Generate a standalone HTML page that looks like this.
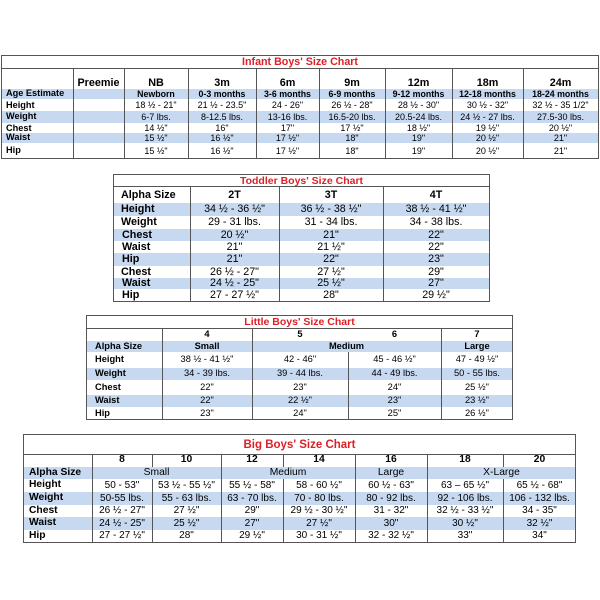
<!DOCTYPE html>
<html><head><meta charset="utf-8">
<style>
html,body{margin:0;padding:0;background:#fff;}
body{width:600px;height:600px;position:relative;overflow:hidden;font-family:"Liberation Sans",Arial,sans-serif;color:#000;}
.bx{position:absolute;border:1px solid #555;box-sizing:border-box;}
.bd{position:absolute;background:#c6d9f1;}
.v{position:absolute;width:1px;background:#555;}
.h{position:absolute;height:1px;background:#555;}
.tt{position:absolute;display:flex;align-items:center;justify-content:center;color:#dd1f26;font-weight:bold;white-space:nowrap;}
.r{position:absolute;display:grid;align-items:center;white-space:nowrap;line-height:1;}
.r>span{text-align:center;overflow:visible;}
.r>span.lb{text-align:left;font-weight:bold;}
.b{font-weight:bold;}
.g1{grid-template-columns:72px 51px 64px 68px 63px 66px 67px 71px 75px;left:1px;width:597px;font-size:9px;}
.g1>span.lb{padding-left:5px;font-size:9.2px;}
.g2{grid-template-columns:77px 89px 104px 106px;left:113px;width:376px;font-size:10.7px;}
.g2>span.lb{padding-left:8px;font-size:10.8px;}
.g3{grid-template-columns:76px 90px 96px 93px 72px;left:86px;width:427px;font-size:9.3px;}
.g3>span.lb{padding-left:9px;}
.g4{grid-template-columns:69px 60px 69px 62px 72px 72px 76px 73px;left:23px;width:553px;font-size:10px;}
.g4>span.lb{padding-left:6px;font-size:10.3px;}
.s2{grid-column:span 2;}
</style></head><body>

<!-- ===== Table 1: Infant ===== -->
<div class="bd" style="left:2px;top:89px;width:596px;height:10px"></div>
<div class="bd" style="left:2px;top:111px;width:596px;height:12px"></div>
<div class="bd" style="left:2px;top:133px;width:596px;height:10px"></div>
<div class="h" style="left:1px;top:68px;width:598px"></div>
<div class="v" style="left:73px;top:68px;height:90px"></div>
<div class="v" style="left:124px;top:68px;height:90px"></div>
<div class="v" style="left:188px;top:68px;height:90px"></div>
<div class="v" style="left:256px;top:68px;height:90px"></div>
<div class="v" style="left:319px;top:68px;height:90px"></div>
<div class="v" style="left:385px;top:68px;height:90px"></div>
<div class="v" style="left:452px;top:68px;height:90px"></div>
<div class="v" style="left:523px;top:68px;height:90px"></div>
<div class="bx" style="left:1px;top:55px;width:598px;height:104px"></div>
<div class="tt" style="left:1px;top:56px;width:598px;height:12px;font-size:10.7px">Infant Boys' Size Chart</div>

<div class="r g1 b" style="top:76px;height:14px;font-size:10.8px"><span></span><span>Preemie</span><span>NB</span><span>3m</span><span>6m</span><span>9m</span><span>12m</span><span>18m</span><span>24m</span></div>
<div class="r g1 b" style="top:89px;height:10px;font-size:8.8px"><span class="lb">Age Estimate</span><span></span><span>Newborn</span><span>0-3 months</span><span>3-6 months</span><span>6-9 months</span><span>9-12 months</span><span>12-18 months</span><span>18-24 months</span></div>
<div class="r g1" style="top:100px;height:11px"><span class="lb">Height</span><span></span><span>18 ½ - 21"</span><span>21 ½ - 23.5"</span><span>24 - 26"</span><span>26 ½ - 28"</span><span>28 ½ - 30"</span><span>30 ½ - 32"</span><span>32 ½ - 35 1/2"</span></div>
<div class="r g1" style="top:111px;height:12px"><span class="lb">Weight</span><span></span><span>6-7 lbs.</span><span>8-12.5 lbs.</span><span>13-16 lbs.</span><span>16.5-20 lbs.</span><span>20.5-24 lbs.</span><span>24 ½ - 27 lbs.</span><span>27.5-30 lbs.</span></div>
<div class="r g1" style="top:123px;height:11px"><span class="lb">Chest</span><span></span><span>14 ½"</span><span>16"</span><span>17"</span><span>17 ½"</span><span>18 ½"</span><span>19 ½"</span><span>20 ½"</span></div>
<div class="r g1" style="top:133px;height:10px"><span class="lb">Waist</span><span></span><span>15 ½"</span><span>16 ½"</span><span>17 ½"</span><span>18"</span><span>19"</span><span>20 ½"</span><span>21"</span></div>
<div class="r g1" style="top:144px;height:14px"><span class="lb">Hip</span><span></span><span>15 ½"</span><span>16 ½"</span><span>17 ½"</span><span>18"</span><span>19"</span><span>20 ½"</span><span>21"</span></div>

<!-- ===== Table 2: Toddler ===== -->
<div class="bd" style="left:114px;top:203px;width:375px;height:13px"></div>
<div class="bd" style="left:114px;top:229px;width:375px;height:12px"></div>
<div class="bd" style="left:114px;top:253px;width:375px;height:13px"></div>
<div class="bd" style="left:114px;top:278px;width:375px;height:11px"></div>
<div class="h" style="left:113px;top:186px;width:377px"></div>
<div class="v" style="left:190px;top:186px;height:115px"></div>
<div class="v" style="left:279px;top:186px;height:115px"></div>
<div class="v" style="left:383px;top:186px;height:115px"></div>
<div class="bx" style="left:113px;top:174px;width:377px;height:128px"></div>
<div class="tt" style="left:113px;top:175px;width:377px;height:12px;font-size:10.5px">Toddler Boys' Size Chart</div>

<div class="r g2" style="top:187px;height:16px"><span class="lb">Alpha Size</span><span class="b">2T</span><span class="b">3T</span><span class="b">4T</span></div>
<div class="r g2" style="top:203px;height:13px"><span class="lb">Height</span><span>34 ½ - 36 ½"</span><span>36 ½ - 38 ½"</span><span>38 ½ - 41 ½"</span></div>
<div class="r g2" style="top:216px;height:13px"><span class="lb">Weight</span><span>29 - 31 lbs.</span><span>31 - 34 lbs.</span><span>34 - 38 lbs.</span></div>
<div class="r g2" style="top:229px;height:12px"><span class="lb" style="padding-left:9px">Chest</span><span>20 ½"</span><span>21"</span><span>22"</span></div>
<div class="r g2" style="top:241px;height:12px"><span class="lb" style="padding-left:9px">Waist</span><span>21"</span><span>21 ½"</span><span>22"</span></div>
<div class="r g2" style="top:253px;height:13px"><span class="lb" style="padding-left:9px">Hip</span><span>21"</span><span>22"</span><span>23"</span></div>
<div class="r g2" style="top:266px;height:12px"><span class="lb">Chest</span><span>26 ½ - 27"</span><span>27 ½"</span><span>29"</span></div>
<div class="r g2" style="top:278px;height:11px"><span class="lb" style="padding-left:9px">Waist</span><span>24 ½ - 25"</span><span>25 ½"</span><span>27"</span></div>
<div class="r g2" style="top:289px;height:12px"><span class="lb" style="padding-left:9px">Hip</span><span>27 - 27 ½"</span><span>28"</span><span>29 ½"</span></div>

<!-- ===== Table 3: Little ===== -->
<div class="bd" style="left:87px;top:341px;width:425px;height:11px"></div>
<div class="bd" style="left:87px;top:368px;width:425px;height:12px"></div>
<div class="bd" style="left:87px;top:395px;width:425px;height:12px"></div>
<div class="h" style="left:86px;top:328px;width:427px"></div>
<div class="v" style="left:162px;top:328px;height:91px"></div>
<div class="v" style="left:252px;top:328px;height:91px"></div>
<div class="v" style="left:441px;top:328px;height:91px"></div>
<div class="v" style="left:348px;top:352px;height:67px"></div>
<div class="bx" style="left:86px;top:315px;width:427px;height:105px"></div>
<div class="tt" style="left:86px;top:316px;width:427px;height:12px;font-size:10.5px">Little Boys' Size Chart</div>

<div class="r g3 b" style="top:329px;height:12px"><span></span><span>4</span><span>5</span><span>6</span><span>7</span></div>
<div class="r g3 b" style="top:341px;height:11px"><span class="lb">Alpha Size</span><span>Small</span><span class="s2">Medium</span><span>Large</span></div>
<div class="r g3" style="top:352px;height:16px"><span class="lb">Height</span><span>38 ½ - 41 ½"</span><span>42 - 46"</span><span>45 - 46 ½"</span><span>47 - 49 ½"</span></div>
<div class="r g3" style="top:368px;height:12px"><span class="lb">Weight</span><span>34 - 39 lbs.</span><span>39 - 44 lbs.</span><span>44 - 49 lbs.</span><span>50 - 55 lbs.</span></div>
<div class="r g3" style="top:380px;height:15px"><span class="lb">Chest</span><span>22"</span><span>23"</span><span>24"</span><span>25 ½"</span></div>
<div class="r g3" style="top:395px;height:12px"><span class="lb">Waist</span><span>22"</span><span>22 ½"</span><span>23"</span><span>23 ½"</span></div>
<div class="r g3" style="top:407px;height:13px"><span class="lb">Hip</span><span>23"</span><span>24"</span><span>25"</span><span>26 ½"</span></div>

<!-- ===== Table 4: Big ===== -->
<div class="bd" style="left:24px;top:467px;width:551px;height:12px"></div>
<div class="bd" style="left:24px;top:492px;width:551px;height:13px"></div>
<div class="bd" style="left:24px;top:517px;width:551px;height:13px"></div>
<div class="h" style="left:23px;top:454px;width:553px"></div>
<div class="v" style="left:92px;top:454px;height:88px"></div>
<div class="v" style="left:221px;top:454px;height:88px"></div>
<div class="v" style="left:355px;top:454px;height:88px"></div>
<div class="v" style="left:427px;top:454px;height:88px"></div>
<div class="v" style="left:152px;top:454px;height:13px"></div>
<div class="v" style="left:283px;top:454px;height:13px"></div>
<div class="v" style="left:503px;top:454px;height:13px"></div>
<div class="v" style="left:152px;top:479px;height:63px"></div>
<div class="v" style="left:283px;top:479px;height:63px"></div>
<div class="v" style="left:503px;top:479px;height:63px"></div>
<div class="bx" style="left:23px;top:434px;width:553px;height:109px"></div>
<div class="tt" style="left:23px;top:435px;width:553px;height:19px;font-size:11.5px">Big Boys' Size Chart</div>

<div class="r g4 b" style="top:454px;height:13px;font-size:10.3px"><span></span><span>8</span><span>10</span><span>12</span><span>14</span><span>16</span><span>18</span><span>20</span></div>
<div class="r g4" style="top:467px;height:12px;font-size:10.3px"><span class="lb">Alpha Size</span><span class="s2">Small</span><span class="s2">Medium</span><span>Large</span><span class="s2">X-Large</span></div>
<div class="r g4" style="top:479px;height:13px"><span class="lb">Height</span><span>50 - 53"</span><span>53 ½ - 55 ½"</span><span>55 ½ - 58"</span><span>58 - 60 ½"</span><span>60 ½ - 63"</span><span>63 – 65 ½"</span><span>65 ½ - 68"</span></div>
<div class="r g4" style="top:492px;height:13px"><span class="lb">Weight</span><span>50-55 lbs.</span><span>55 - 63 lbs.</span><span>63 - 70 lbs.</span><span>70 - 80 lbs.</span><span>80 - 92 lbs.</span><span>92 - 106 lbs.</span><span>106 - 132 lbs.</span></div>
<div class="r g4" style="top:505px;height:12px"><span class="lb">Chest</span><span>26 ½ - 27"</span><span>27 ½"</span><span>29"</span><span>29 ½ - 30 ½"</span><span>31 - 32"</span><span>32 ½ - 33 ½"</span><span>34 - 35"</span></div>
<div class="r g4" style="top:517px;height:13px"><span class="lb">Waist</span><span>24 ½ - 25"</span><span>25 ½"</span><span>27"</span><span>27 ½"</span><span>30"</span><span>30 ½"</span><span>32 ½"</span></div>
<div class="r g4" style="top:530px;height:12px"><span class="lb">Hip</span><span>27 - 27 ½"</span><span>28"</span><span>29 ½"</span><span>30 - 31 ½"</span><span>32 - 32 ½"</span><span>33"</span><span>34"</span></div>

</body></html>
